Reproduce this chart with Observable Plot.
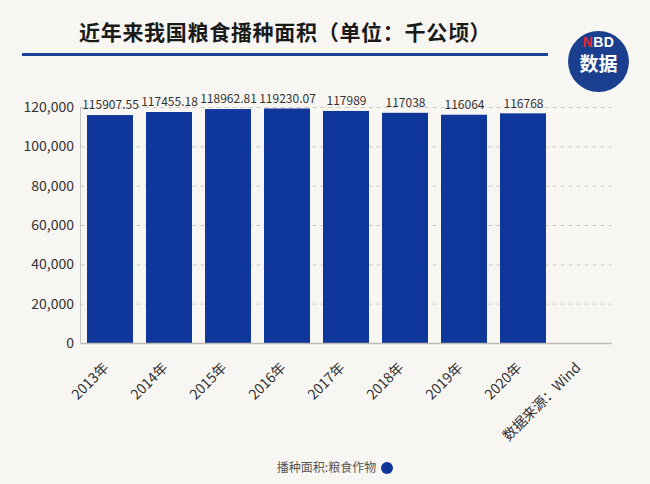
<!DOCTYPE html>
<html>
<head>
<meta charset="utf-8">
<script src="https://cdn.jsdelivr.net/npm/d3@7"></script>
<script src="https://cdn.jsdelivr.net/npm/@observablehq/plot@0.6"></script>
<style>
  html, body { margin: 0; padding: 0; background: #f8f6f2; }
  #wrap { position: relative; width: 650px; height: 484px; overflow: hidden; background: #f8f6f2;
          font-family: "Noto Sans CJK SC", "Noto Sans", sans-serif; }
  #title { position: absolute; left: 79px; top: 16px; font-size: 21px; font-weight: 700; color: #1a1a1a; white-space: nowrap; letter-spacing: 0.7px; }
  #rule { position: absolute; left: 22px; top: 53px; width: 526px; height: 3px; background: #1a4597; }
  #logo { position: absolute; left: 568px; top: 31px; width: 61px; height: 61px; border-radius: 50%; background: #1b3f8f; color: #fff; text-align: center; font-weight: 700; }
  #logo .nbd { position: absolute; left: 0; right: 0; top: 4px; font-size: 14px; line-height: 14px; font-family: "Liberation Sans", Arial, sans-serif; letter-spacing: 0.5px; }
  #logo .nbd span { color: #e3262c; }
  #logo .sj { position: absolute; left: 0; right: 0; top: 22px; font-size: 19px; line-height: 20px; }
  #chart { position: absolute; left: 0; top: 90px; }
  #legend { position: absolute; left: 10px; width: 650px; top: 458px; text-align: center; font-size: 12px; color: #555; }
  #legend .dot { display: inline-block; width: 12px; height: 12px; border-radius: 50%; background: #0f379b; vertical-align: -2px; margin-left: 5px; }
</style>
</head>
<body>
<div id="wrap">
  <div id="title">近年来我国粮食播种面积（单位：千公顷）</div>
  <div id="rule"></div>
  <div id="logo"><div class="nbd"><span>N</span>BD</div><div class="sj">数据</div></div>
  <div id="chart"></div>
  <div id="legend">播种面积:粮食作物<span class="dot"></span></div>
</div>
<script>
const years = ["2013年", "2014年", "2015年", "2016年", "2017年", "2018年", "2019年", "2020年"];
const sourceLabel = "数据来源：Wind";
const values = [115907.55, 117455.18, 118962.81, 119230.07, 117989, 117038, 116064, 116768];
const yTicks = [0, 20000, 40000, 60000, 80000, 100000, 120000];

const data = years.map((y, i) => ({year: y, value: values[i]}));
const categories = [...years, sourceLabel];

const chart = Plot.plot({
  width: 650,
  height: 360,
  marginLeft: 80.5,
  marginRight: 38.5,
  marginTop: 17,
  marginBottom: 107,
  style: {background: "transparent", fontFamily: "'Noto Sans CJK SC', 'Noto Sans', sans-serif", overflow: "visible"},
  x: {domain: categories, paddingInner: 0.22, paddingOuter: 0.11, label: null},
  y: {domain: [0, 120000], label: null},
  marks: [
    Plot.ruleY(yTicks.slice(1), {stroke: "#cfcac4", strokeDasharray: "4,4", strokeWidth: 1}),
    Plot.barY(data, {x: "year", y: "value", fill: "#0f379b"}),
    Plot.ruleY([0], {stroke: "#bdbab5", strokeWidth: 1.5}),
    Plot.text(data, {x: "year", y: "value", text: d => String(d.value), dy: -10, fontSize: 12, fill: "#333"}),
    Plot.axisY({ticks: yTicks, tickFormat: d3.format(","), tickSize: 0, tickPadding: 7, fontSize: 14, color: "#333", label: null}),
    Plot.axisX({tickSize: 0, tickRotate: -45, tickPadding: 22, dx: -4, fontSize: 14, color: "#333", label: null})
  ]
});
const svg = d3.select(chart);
svg.append("line").attr("x1", 80.5).attr("x2", 80.5).attr("y1", 17).attr("y2", 253).attr("stroke", "#c8c5c0");
document.getElementById("chart").appendChild(chart);
</script>
</body>
</html>
